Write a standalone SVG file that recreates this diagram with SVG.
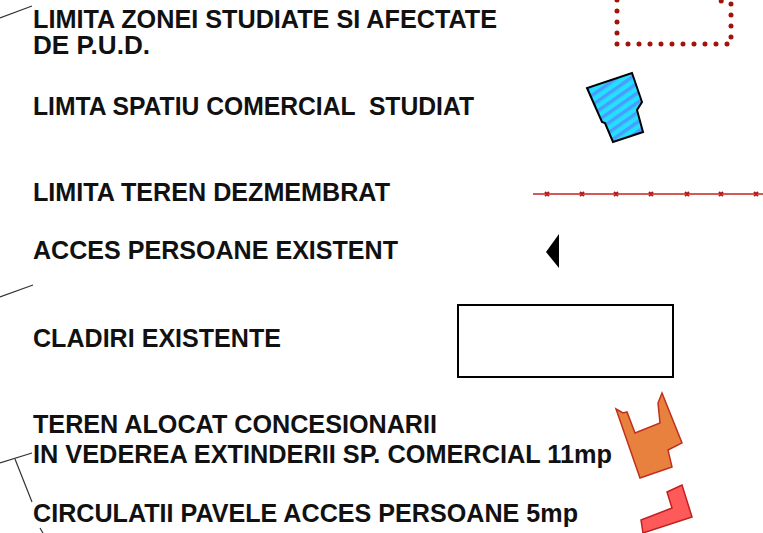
<svg xmlns="http://www.w3.org/2000/svg" width="763" height="533" viewBox="0 0 763 533">
<defs>
<style>
.t{font-family:"Liberation Sans",Arial,sans-serif;font-weight:bold;font-size:25px;fill:#111;white-space:pre}
.ln{stroke:#333;stroke-width:1.2;fill:none}
</style>
<pattern id="hatch" patternUnits="userSpaceOnUse" width="8" height="8" patternTransform="rotate(-35)">
<rect width="8" height="8" fill="#22e0ff"/>
<rect width="8" height="3.5" fill="#4a9cff"/>
</pattern>
</defs>
<rect width="763" height="533" fill="#fff"/>
<g id="connectors">
<line class="ln" x1="0" y1="18" x2="32" y2="6"/>
<line class="ln" x1="0" y1="297" x2="33" y2="285"/>
<line class="ln" x1="0" y1="463" x2="32" y2="453"/>
<line class="ln" x1="15" y1="459" x2="32" y2="502"/>
<line class="ln" x1="40" y1="528" x2="43" y2="533"/>
</g>
<g id="legend-text">
<text class="t" x="33" y="28" textLength="464" lengthAdjust="spacingAndGlyphs">LIMITA ZONEI STUDIATE SI AFECTATE</text>
<text class="t" x="33" y="54" textLength="117" lengthAdjust="spacingAndGlyphs">DE P.U.D.</text>
<text class="t" x="33" y="115" textLength="441" lengthAdjust="spacingAndGlyphs" xml:space="preserve">LIMTA SPATIU COMERCIAL  STUDIAT</text>
<text class="t" x="33" y="201" textLength="357" lengthAdjust="spacingAndGlyphs">LIMITA TEREN DEZMEMBRAT</text>
<text class="t" x="33" y="259" textLength="365" lengthAdjust="spacingAndGlyphs">ACCES PERSOANE EXISTENT</text>
<text class="t" x="33" y="347" textLength="248" lengthAdjust="spacingAndGlyphs">CLADIRI EXISTENTE</text>
<text class="t" x="33" y="433" textLength="404" lengthAdjust="spacingAndGlyphs">TEREN ALOCAT CONCESIONARII</text>
<text class="t" x="33" y="463" textLength="579" lengthAdjust="spacingAndGlyphs">IN VEDEREA EXTINDERII SP. COMERCIAL 11mp</text>
<text class="t" x="33" y="522" textLength="545" lengthAdjust="spacingAndGlyphs">CIRCULATII PAVELE ACCES PERSOANE 5mp</text>
</g>
<g id="sym-limita-zonei">
<path d="M617,0 V44 H731 V3 L717,0" fill="none" stroke="#a3120a" stroke-width="5" stroke-linecap="round" stroke-dasharray="0 11"/>
</g>
<g id="sym-spatiu-comercial">
<polygon points="632,73 642,102 637,110 643,132 613,142 605,123 602,122 587,88" fill="url(#hatch)" stroke="#000" stroke-width="2" stroke-linejoin="miter"/>
</g>
<g id="sym-teren-dezmembrat">
<line x1="533" y1="194" x2="763" y2="194" stroke="#c8201c" stroke-width="1.5"/>
<path d="M545,192 l4,4 m0,-4 l-4,4 M580,192 l4,4 m0,-4 l-4,4 M614,192 l4,4 m0,-4 l-4,4 M649,192 l4,4 m0,-4 l-4,4 M685,192 l4,4 m0,-4 l-4,4 M719,192 l4,4 m0,-4 l-4,4 M754,192 l4,4 m0,-4 l-4,4" stroke="#b01818" stroke-width="2" fill="none"/>
</g>
<g id="sym-acces">
<polygon points="546,252 559,234 559,268" fill="#000"/>
</g>
<g id="sym-cladiri">
<rect x="458" y="305" width="215" height="72" fill="#fff" stroke="#000" stroke-width="2"/>
</g>
<g id="sym-teren-alocat">
<polygon points="616,409 623,413 627,412 635,433 660,423 658,403 662,393 682,443 668,450 672,467 640,478" fill="#e8803e" stroke="#c03020" stroke-width="1.5"/>
</g>
<g id="sym-circulatii">
<polygon points="667,492 682,485 692,517 643,533 641,520 672,508" fill="#ff5a5a" stroke="#c02020" stroke-width="1.5"/>
</g>
</svg>
